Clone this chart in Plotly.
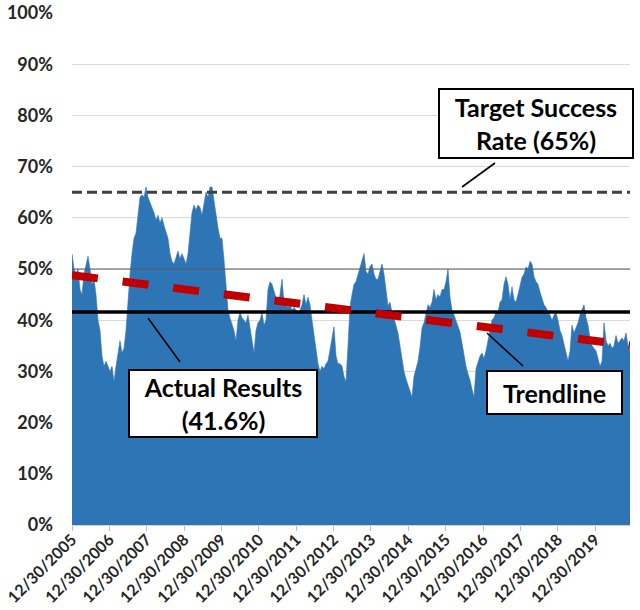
import pandas as pd
import plotly.graph_objects as go

# ---------------- data ----------------
series_start = "2005-12-30"
series_end = "2020-12-05"

success_rate = [
    53, 50, 49, 50, 46, 45, 49, 51, 52.5, 50, 47, 48, 45, 40, 38, 33, 31, 32, 31, 30,
    31, 28, 31, 34, 36, 33.6, 34.5, 38, 44, 49, 53, 56, 57, 60, 64, 64.5, 64, 66, 64, 63,
    62, 61, 59.5, 60.5, 59, 60, 58.5, 57, 56, 53, 51.5, 51, 52.5, 53.5, 52, 53, 52, 51, 53, 57,
    61, 62.5, 61.5, 62.5, 62, 60.5, 62.5, 65, 64, 66, 66, 63, 60, 58, 56, 56, 51.8, 46, 42, 40.4,
    39, 38, 36, 40, 41.5, 40.5, 40, 39.5, 41, 38.5, 36, 33.6, 38, 39.5, 40, 41.5, 39, 40, 46, 47.5,
    47, 45.5, 44, 43, 45, 48, 43.5, 43, 42.5, 43, 42, 42.5, 42, 41.5, 42, 43, 45, 43, 44.5, 43,
    40, 37, 34, 31.5, 30, 31, 30.5, 31.5, 32, 34, 36, 38.7, 33, 31.5, 31.5, 31, 29, 28, 35, 42.6,
    45, 47, 47.5, 49, 50.4, 52, 53, 49.5, 49, 50.5, 51, 49, 48, 48, 49.5, 51, 49, 46, 42.8, 43.5,
    41.5, 40.4, 39, 37.5, 35, 32, 30, 28.5, 27.3, 26, 25, 29, 30.5, 32, 34.7, 38.5, 39.5, 41.5, 43, 42.5,
    43.5, 46, 44, 45, 44.5, 46, 46, 47.5, 50, 44.5, 42, 41, 40, 39, 37.7, 35.5, 33, 31, 29.5, 28.3,
    26.5, 25, 30.5, 32, 33, 33.6, 32.5, 34, 36, 37.5, 40, 40.5, 41.5, 41.5, 43.5, 44, 47, 48.5, 47, 44,
    46.5, 44, 43.5, 45, 46.5, 48.4, 49, 50.4, 50, 51.5, 51, 48.5, 47.5, 47, 45.5, 44.3, 43, 42.5, 41.5, 41,
    40, 41, 41.5, 40, 38, 37, 35.5, 34, 32, 34, 39, 37.5, 38.5, 39.5, 41, 42, 43, 40.5, 39, 36.5,
    35, 34.5, 34, 32.5, 31, 32, 39.5, 36, 35, 35.5, 34.5, 35, 37, 35.5, 36, 36.5, 36, 37.5, 35, 34,
]

target_rate = 65
actual_rate = 41.6
trend_start_value = 48.8
trend_end_value = 35.1

tick_dates = ["2005-12-30", "2006-12-30", "2007-12-30", "2008-12-30", "2009-12-30",
              "2010-12-30", "2011-12-30", "2012-12-30", "2013-12-30", "2014-12-30",
              "2015-12-30", "2016-12-30", "2017-12-30", "2018-12-30", "2019-12-30"]
tick_labels = ["12/30/2005", "12/30/2006", "12/30/2007", "12/30/2008", "12/30/2009",
               "12/30/2010", "12/30/2011", "12/30/2012", "12/30/2013", "12/30/2014",
               "12/30/2015", "12/30/2016", "12/30/2017", "12/30/2018", "12/30/2019"]
y_ticks = [0, 10, 20, 30, 40, 50, 60, 70, 80, 90, 100]
y_tick_labels = [f"{v}%" for v in y_ticks]

dates = pd.date_range(series_start, series_end, periods=len(success_rate))
ends = [dates[0], dates[-1]]

FONT = "Lato"
fig = go.Figure()

fig.add_trace(go.Scatter(
    x=dates, y=success_rate, mode="lines", fill="tozeroy",
    line=dict(color="#2E75B6", width=0.6), fillcolor="#2E75B6",
    hoverinfo="skip", showlegend=False))

# 50% reference line (darker)
fig.add_trace(go.Scatter(x=ends, y=[50, 50], mode="lines",
                         line=dict(color="#5a5a5a", width=1), showlegend=False))
fig.add_trace(go.Scatter(x=ends, y=[target_rate, target_rate], mode="lines",
                         line=dict(color="#404040", width=3, dash="10px,5px"), showlegend=False))
fig.add_trace(go.Scatter(x=ends, y=[actual_rate, actual_rate], mode="lines",
                         line=dict(color="black", width=3.5), showlegend=False))
fig.add_trace(go.Scatter(x=ends, y=[trend_start_value, trend_end_value], mode="lines",
                         line=dict(color="#C00000", width=8, dash="26px,25px"), showlegend=False))

def px2paper(px, py):
    return (px - 72) / 558, (525 - py) / 512

for (a, b) in [((495, 163), (462, 187)), ((148, 318), (180, 362)), ((487, 333), (523, 366))]:
    x0, y0 = px2paper(*a)
    x1, y1 = px2paper(*b)
    fig.add_shape(type="line", xref="paper", yref="paper", x0=x0, y0=y0, x1=x1, y1=y1,
                  line=dict(color="black", width=1.6))

boxes = [
    ("Target Success<br>Rate (65%)", 536, 123.5, 192, 67),
    ("Actual Results<br>(41.6%)", 223, 403.5, 186, 65),
    ("Trendline", 554.5, 392.5, 133, 41),
]
for text, cx, cy, w, h in boxes:
    x, y = px2paper(cx, cy)
    fig.add_annotation(text=text, xref="paper", yref="paper", x=x, y=y,
                       xanchor="center", yanchor="middle", showarrow=False,
                       width=w, height=h, borderpad=0, borderwidth=2,
                       bordercolor="black", bgcolor="white", align="center",
                       font=dict(family=FONT, size=25, color="black", weight="bold"))

fig.update_layout(
    width=640, height=610,
    margin=dict(l=72, r=10, t=13, b=85),
    paper_bgcolor="white", plot_bgcolor="white",
    font=dict(family=FONT, color="#262626"),
    xaxis=dict(type="date", range=ends, tickvals=pd.to_datetime(tick_dates), ticktext=tick_labels,
               tickangle=-45, ticks="outside", ticklen=5, tickcolor="#bfbfbf", automargin=False,
               ticklabelstandoff=-7, ticklabeloverflow="allow",
               showline=True, linecolor="#d0d0d0", linewidth=1, showgrid=False, zeroline=False,
               tickfont=dict(family=FONT, size=16, color="#262626", weight="bold")),
    yaxis=dict(range=[0, 100], tickvals=y_ticks, ticktext=y_tick_labels, automargin=False,
               showgrid=True, gridcolor="#d9d9d9", gridwidth=1, zeroline=False,
               ticks="", ticklabelstandoff=18,
               tickfont=dict(family=FONT, size=18, color="#262626", weight="bold")),
)

fig.write_html("out.html", config={"displayModeBar": False},
               post_script="document.body.style.margin='0';document.body.style.overflow='hidden';")
